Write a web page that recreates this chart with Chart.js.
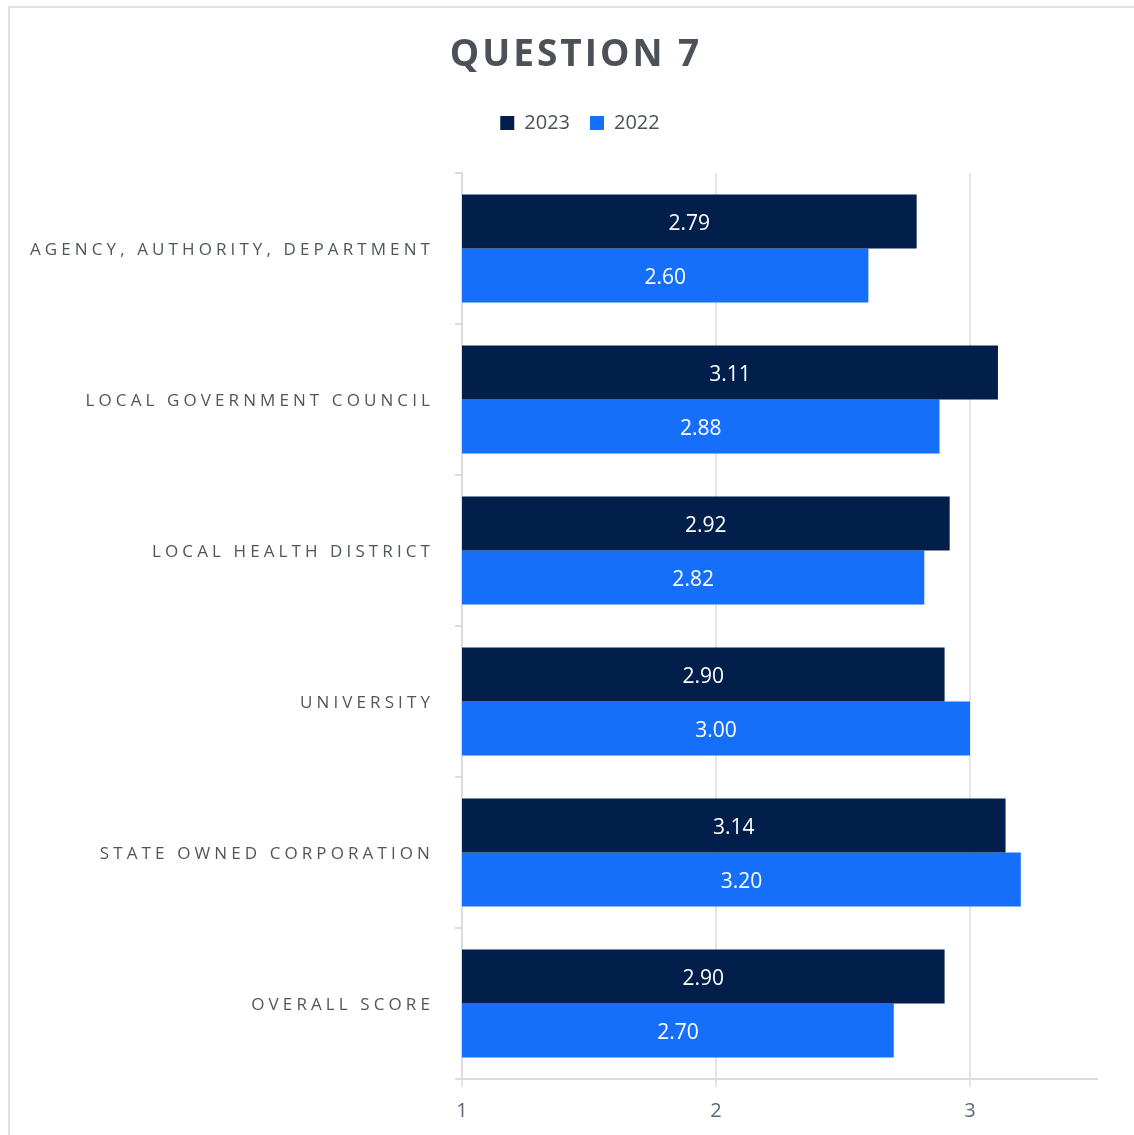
<!DOCTYPE html>
<html>
<head>
<meta charset="utf-8">
<script src="https://cdn.jsdelivr.net/npm/chart.js@4.4.1/dist/chart.umd.min.js"></script>
<style>
  html, body { margin: 0; padding: 0; background: #ffffff; }
  #wrap { width: 1134px; height: 1135px; position: relative; }
</style>
</head>
<body>
<div id="wrap"><canvas id="q7-chart"></canvas></div>
<script>
// category names, top to bottom
var categories = [
    'AGENCY, AUTHORITY, DEPARTMENT',
    'LOCAL GOVERNMENT COUNCIL',
    'LOCAL HEALTH DISTRICT',
    'UNIVERSITY',
    'STATE OWNED CORPORATION',
    'OVERALL SCORE'
];
var seriesNames = ['2023', '2022'];
var values2023 = [2.79, 3.11, 2.92, 2.90, 3.14, 2.90];
var values2022 = [2.60, 2.88, 2.82, 3.00, 3.20, 2.70];
var axisTicks = [1, 2, 3];

var navy = '#021f4c';
var blue = '#166ffb';
var textGrey = '#4b5157';
var lineGrey = '#dadcdf';
var font = '"Open Sans", sans-serif';

// frame, title and spaced-out category names
var decorPlugin = {
    id: 'decor',
    afterInit: (chart) => {
        // leave extra room between the legend and the plot
        var legend = chart.legend;
        var fit = legend.fit.bind(legend);
        legend.fit = function () {
            fit();
            this.height += 30;
        };
    },
    beforeDraw: (chart) => {
        var ctx = chart.ctx;
        ctx.save();
        ctx.fillStyle = '#dcdfe3';
        ctx.fillRect(8, 6, 2, chart.height);
        ctx.fillRect(8, 6, chart.width, 2);
        ctx.restore();
    },
    afterDraw: (chart) => {
        var ctx = chart.ctx;
        ctx.save();
        ctx.fillStyle = textGrey;
        ctx.textBaseline = 'middle';

        ctx.font = 'bold 37px ' + font;
        ctx.letterSpacing = '3px';
        ctx.textAlign = 'center';
        ctx.fillText('QUESTION 7', 576, 55);

        var yScale = chart.scales.y;
        ctx.font = '17px ' + font;
        ctx.letterSpacing = '4.1px';
        ctx.textAlign = 'right';
        ctx.fillStyle = '#50565c';
        categories.forEach((label, i) => {
            ctx.fillText(label, 434, yScale.getPixelForTick(i) + 2);
        });
        ctx.restore();
    }
};

// value printed in the middle of each bar
var barValuePlugin = {
    id: 'barValues',
    afterDatasetsDraw: (chart) => {
        var ctx = chart.ctx;
        var left = chart.chartArea.left;
        ctx.save();
        ctx.font = '21px ' + font;
        ctx.fillStyle = '#ffffff';
        ctx.textAlign = 'center';
        ctx.textBaseline = 'middle';
        chart.data.datasets.forEach((ds, di) => {
            chart.getDatasetMeta(di).data.forEach((bar, i) => {
                var start = Math.max(bar.base, left);
                ctx.fillText(ds.data[i].toFixed(2), (bar.x + start) / 2, bar.y + 3);
            });
        });
        ctx.restore();
    }
};

const data = {
    labels: categories,
    datasets: [{
        label: seriesNames[0],
        data: values2023,
        backgroundColor: navy,
        borderColor: navy
    }, {
        label: seriesNames[1],
        data: values2022,
        backgroundColor: blue,
        borderColor: blue
    }]
};

const config = {
    type: 'bar',
    data: data,
    options: {
        indexAxis: 'y',
        responsive: true,
        maintainAspectRatio: false,
        animation: false,
        categoryPercentage: 0.715,
        barPercentage: 1,
        layout: {
            padding: { top: 93, left: 63, right: 37, bottom: 0 }
        },
        plugins: {
            title: { display: false },
            tooltip: { enabled: false },
            legend: {
                display: true,
                position: 'top',
                labels: {
                    boxWidth: 14,
                    boxHeight: 14,
                    padding: 20,
                    color: textGrey,
                    font: { family: font, size: 20 }
                }
            }
        },
        scales: {
            x: {
                type: 'linear',
                min: 1,
                max: 3.5,
                afterBuildTicks: (scale) => {
                    scale.ticks = axisTicks.map((v) => ({ value: v }));
                },
                afterFit: (scale) => { scale.height = 56; },
                border: { display: true, color: lineGrey, width: 2 },
                grid: {
                    color: '#e4e5e7',
                    lineWidth: 2,
                    tickLength: 8,
                    drawOnChartArea: true
                },
                ticks: {
                    color: '#5e6873',
                    padding: 12,
                    font: { family: font, size: 20 }
                }
            },
            y: {
                afterFit: (scale) => { scale.width = 462 - 63; },
                border: { display: true, color: lineGrey, width: 2 },
                grid: {
                    offset: true,
                    color: lineGrey,
                    lineWidth: 2,
                    tickLength: 7,
                    drawOnChartArea: false
                },
                ticks: { display: false }
            }
        }
    },
    plugins: [decorPlugin, barValuePlugin]
};

new Chart(document.getElementById('q7-chart'), config);
</script>
</body>
</html>
